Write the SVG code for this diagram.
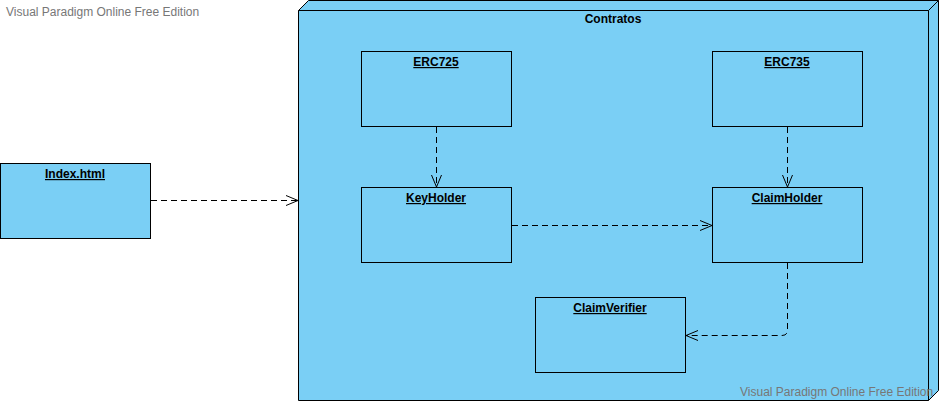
<svg xmlns="http://www.w3.org/2000/svg" width="939" height="402" viewBox="0 0 939 402">
<style>
.box{fill:#7acff5;stroke:#000;stroke-width:1}
.t{font-family:"Liberation Sans",Arial,sans-serif;font-size:12px;font-weight:bold;fill:#000;text-anchor:middle;text-decoration:underline}
.wm{font-family:"Liberation Sans",Arial,sans-serif;font-size:12px;fill:#777}
.c{fill:none;stroke:#000;stroke-width:1;stroke-dasharray:6 4}
.h{fill:none;stroke:#000;stroke-width:1}
</style>
<defs>
<marker id="open" markerWidth="14" markerHeight="12" refX="13" refY="6" orient="auto" markerUnits="userSpaceOnUse">
<path d="M1,1 L13,6 L1,11" class="h"/>
</marker>
</defs>
<text class="wm" x="6" y="16">Visual Paradigm Online Free Edition</text>
<g id="contratos">
<path class="box" d="M298.5,10.5 L308.5,0.5 L938.5,0.5 L938.5,390.5 L928.5,400.5 L298.5,400.5 Z"/>
<path class="h" d="M298.5,10.5 L928.5,10.5 L938.5,0.5 M928.5,10.5 L928.5,400.5"/>
<text class="t" x="613" y="23" style="text-decoration:none">Contratos</text>
</g>
<g id="index">
<rect class="box" x="0.5" y="163.5" width="150" height="75"/>
<text class="t" x="75" y="178">Index.html</text>
</g>
<g id="erc725">
<rect class="box" x="361.5" y="51.5" width="150" height="75"/>
<text class="t" x="436" y="66">ERC725</text>
</g>
<g id="erc735">
<rect class="box" x="712.5" y="51.5" width="150" height="75"/>
<text class="t" x="787" y="66">ERC735</text>
</g>
<g id="keyholder">
<rect class="box" x="361.5" y="187.5" width="150" height="75"/>
<text class="t" x="436" y="202">KeyHolder</text>
</g>
<g id="claimholder">
<rect class="box" x="712.5" y="187.5" width="150" height="75"/>
<text class="t" x="787" y="202">ClaimHolder</text>
</g>
<g id="claimverifier">
<rect class="box" x="535.5" y="297.5" width="150" height="75"/>
<text class="t" x="610" y="312">ClaimVerifier</text>
</g>
<g id="connectors">
<path class="c" d="M151,200.5 L298,200.5" marker-end="url(#open)"/>
<path class="c" d="M436.5,127 L436.5,187" marker-end="url(#open)"/>
<path class="c" d="M787.5,127 L787.5,187" marker-end="url(#open)"/>
<path class="c" d="M512,225.5 L712,225.5" marker-end="url(#open)"/>
<path class="c" d="M787.5,263 L787.5,330 Q787.5,335.5 782,335.5 L686,335.5" marker-end="url(#open)"/>
</g>
<text class="wm" x="740" y="396">Visual Paradigm Online Free Edition</text>
</svg>
